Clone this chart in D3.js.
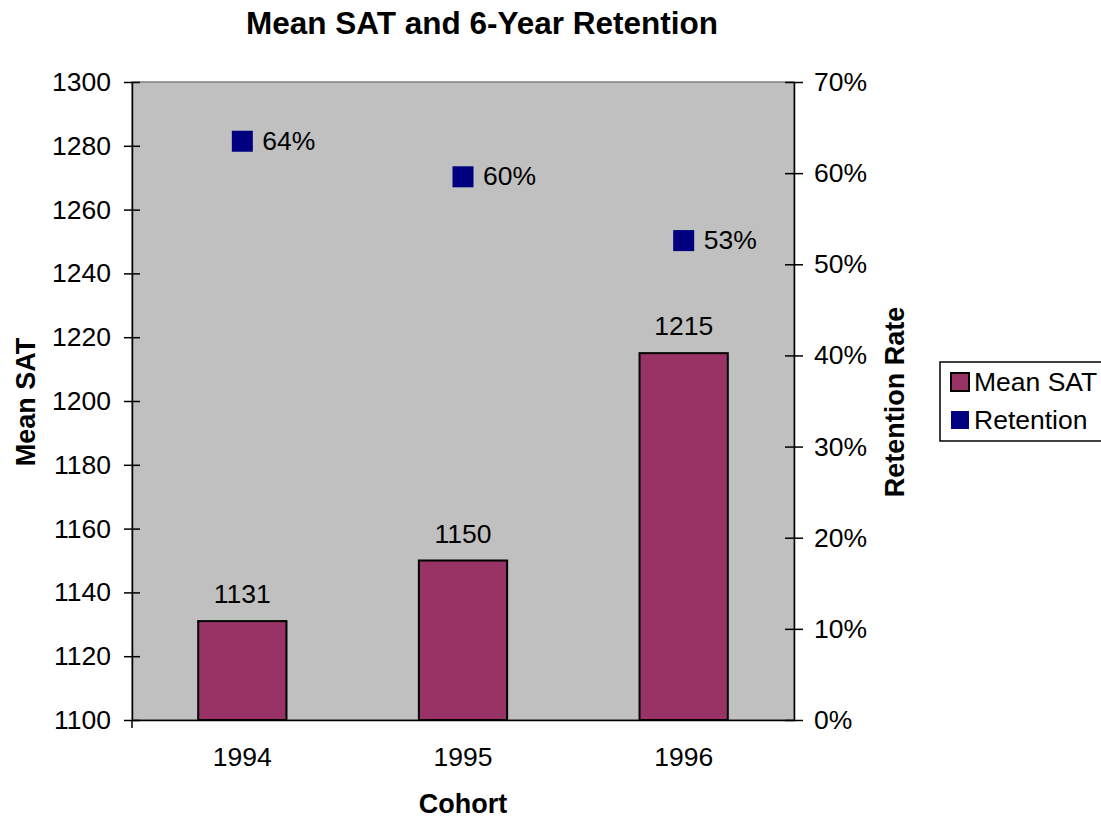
<!DOCTYPE html>
<html>
<head>
<meta charset="utf-8">
<script src="https://cdn.jsdelivr.net/npm/d3@7"></script>
<style>
  html, body { margin: 0; padding: 0; background: #fff; }
  svg { display: block; font-family: Arial, "Liberation Sans", sans-serif; }
</style>
</head>
<body>
<svg id="chart" width="1101" height="819"></svg>
<script>
// Cohort data
const cohorts = ["1994", "1995", "1996"];
const meanSAT = [1131, 1150, 1215];
const retention = [0.635, 0.596, 0.526];
const satTicks = [1100, 1120, 1140, 1160, 1180, 1200, 1220, 1240, 1260, 1280, 1300];
const pctTicks = [0, 0.1, 0.2, 0.3, 0.4, 0.5, 0.6, 0.7];

const svg = d3.select("#chart");
const plot = { left: 132, right: 794, top: 82, bottom: 720 };
const fs = 26.5;

const x = d3.scaleBand().domain(cohorts).range([plot.left, plot.right]).paddingInner(0.6).paddingOuter(0.3);
const ySAT = d3.scaleLinear().domain([1100, 1300]).range([plot.bottom, plot.top]);
const yPct = d3.scaleLinear().domain([0, 0.7]).range([plot.bottom, plot.top]);
const pct = d3.format(".0%");

// Plot background
svg.append("rect")
  .attr("x", plot.left).attr("y", plot.top)
  .attr("width", plot.right - plot.left).attr("height", plot.bottom - plot.top)
  .attr("fill", "#c0c0c0").attr("stroke", "#808080").attr("stroke-width", 1.5);

// Bars
svg.selectAll("rect.bar").data(cohorts).join("rect")
  .attr("class", "bar")
  .attr("x", d => x(d))
  .attr("width", x.bandwidth())
  .attr("y", (d, i) => ySAT(meanSAT[i]))
  .attr("height", (d, i) => ySAT(1100) - ySAT(meanSAT[i]))
  .attr("fill", "#993366").attr("stroke", "#000").attr("stroke-width", 2);

svg.selectAll("text.barlab").data(cohorts).join("text")
  .attr("class", "barlab")
  .attr("x", d => x(d) + x.bandwidth() / 2)
  .attr("y", (d, i) => ySAT(meanSAT[i]) - 18)
  .attr("text-anchor", "middle")
  .attr("font-size", fs)
  .text((d, i) => meanSAT[i]);

// Retention markers
const ms = 21;
svg.selectAll("rect.mark").data(cohorts).join("rect")
  .attr("class", "mark")
  .attr("x", d => x(d) + x.bandwidth() / 2 - ms / 2)
  .attr("y", (d, i) => yPct(retention[i]) - ms / 2)
  .attr("width", ms).attr("height", ms)
  .attr("fill", "#000080");

svg.selectAll("text.marklab").data(cohorts).join("text")
  .attr("class", "marklab")
  .attr("x", d => x(d) + x.bandwidth() / 2 + 20)
  .attr("y", (d, i) => yPct(retention[i]) - 1)
  .attr("dy", "0.35em")
  .attr("font-size", fs)
  .text((d, i) => pct(retention[i]));

// Left axis
const leftAxis = svg.append("g")
  .attr("transform", `translate(${plot.left},0)`)
  .call(d3.axisLeft(ySAT).tickValues(satTicks).tickFormat(d3.format("d")).tickSize(8).tickPadding(13).tickSizeOuter(0));
leftAxis.selectAll(".tick line").attr("x2", -8).attr("x1", 8);
// Right axis
const rightAxis = svg.append("g")
  .attr("transform", `translate(${plot.right},0)`)
  .call(d3.axisRight(yPct).tickValues(pctTicks).tickFormat(pct).tickSize(9).tickPadding(11).tickSizeOuter(0));
rightAxis.selectAll(".tick line").attr("x1", -9).attr("x2", 9);
// Bottom axis
const bottomAxis = svg.append("g")
  .attr("transform", `translate(0,${plot.bottom})`)
  .call(d3.axisBottom(x).tickSize(0).tickPadding(27).tickSizeOuter(0));
svg.append("line").attr("x1", plot.left).attr("x2", plot.left)
  .attr("y1", plot.bottom).attr("y2", plot.bottom + 8).attr("stroke", "#000").attr("stroke-width", 1.5);

[leftAxis, rightAxis, bottomAxis].forEach(g => {
  g.selectAll("text").attr("font-size", fs).attr("fill", "#000")
    .attr("font-family", "Arial, 'Liberation Sans', sans-serif");
  g.selectAll("path, line").attr("stroke", "#000").attr("stroke-width", 1.5);
});

// Titles
svg.append("text").attr("x", 482).attr("y", 34).attr("text-anchor", "middle")
  .attr("font-size", 31.5).attr("font-weight", "bold").text("Mean SAT and 6-Year Retention");
svg.append("text").attr("x", 463).attr("y", 813).attr("text-anchor", "middle")
  .attr("font-size", 27).attr("font-weight", "bold").text("Cohort");
svg.append("text").attr("transform", "translate(35,402) rotate(-90)").attr("text-anchor", "middle")
  .attr("font-size", 27).attr("font-weight", "bold").text("Mean SAT");
svg.append("text").attr("transform", "translate(904,402) rotate(-90)").attr("text-anchor", "middle")
  .attr("font-size", 27).attr("font-weight", "bold").text("Retention Rate");

// Legend
const lg = svg.append("g").attr("transform", "translate(940,362)");
lg.append("rect").attr("x", 0).attr("y", 0).attr("width", 170).attr("height", 79)
  .attr("fill", "#fff").attr("stroke", "#000").attr("stroke-width", 1.5);
const legendItems = [
  { name: "Mean SAT", fill: "#993366", stroke: "#000" },
  { name: "Retention", fill: "#000080", stroke: "none" }
];
legendItems.forEach((it, i) => {
  const cy = 20 + i * 38;
  lg.append("rect").attr("x", 11).attr("y", cy - 9).attr("width", 18).attr("height", 18)
    .attr("fill", it.fill).attr("stroke", it.stroke).attr("stroke-width", 2);
  lg.append("text").attr("x", 34).attr("y", cy).attr("dy", "0.35em")
    .attr("font-size", fs).text(it.name);
});
</script>
</body>
</html>
